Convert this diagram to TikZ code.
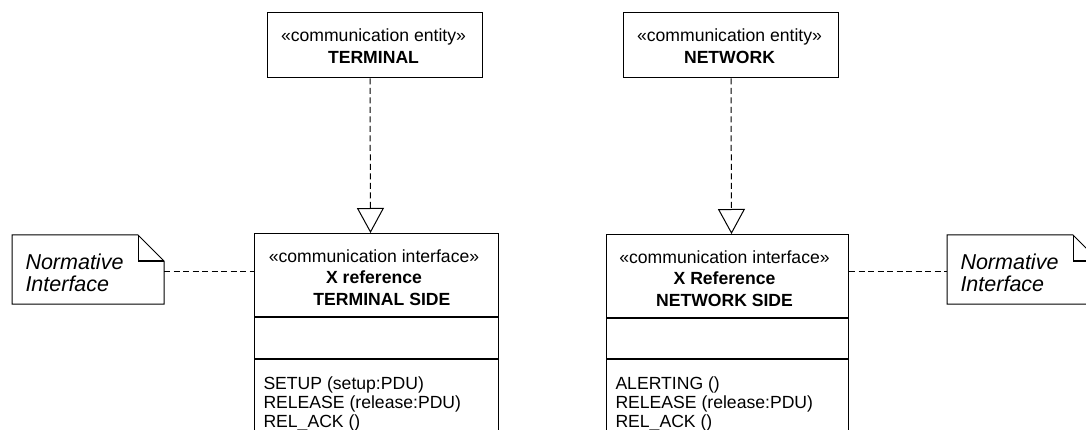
\documentclass[tikz,border=0pt]{standalone}
\usepackage{fontspec}
\setmainfont{Liberation Sans}
\usetikzlibrary{arrows.meta}

\begin{document}
\begin{tikzpicture}[x=1pt, y=-1pt, line width=1pt,
	umlbox/.style = {draw, rectangle, inner sep=0pt},
	umltext/.style = {inner sep=0pt, anchor=north, align=center, font=\fontsize{17.6}{21.5}\selectfont},
	optext/.style = {inner sep=0pt, anchor=north west, align=left, font=\fontsize{17.6}{19}\selectfont},
	notebox/.style = {inner sep=0pt, anchor=north west, minimum width=151pt, minimum height=68pt},
	notetext/.style = {inner sep=0pt, anchor=west, align=left, font=\fontsize{21.5}{21.5}\selectfont\itshape},
	depends/.style = {dash pattern=on 6pt off 3.5pt, -{Triangle[open, length=25pt, width=27pt]}},
	tie/.style = {dash pattern=on 6pt off 3.5pt}]
	\useasboundingbox (0,0) rectangle (1086,430);
	\clip (0,0) rectangle (1086,430);

	% entities
	\node[umlbox, minimum width=215pt, minimum height=65pt] (termEnt) at (374.5,45.5) {};
	\node[umltext] (termEntText) at ([xshift=-1pt, yshift=-16pt]termEnt.north) {«communication entity»\\\textbf{TERMINAL}};
	\node[umlbox, minimum width=215pt, minimum height=65pt] (netEnt) at (730.5,45.5) {};
	\node[umltext] (netEntText) at ([xshift=-1pt, yshift=-16pt]netEnt.north) {«communication entity»\\\textbf{NETWORK}};

	% terminal side interface
	\node[umlbox, anchor=north west, minimum width=244pt, minimum height=83pt] (termIf) at (254,233) {};
	\node[umlbox, anchor=north west, minimum width=244pt, minimum height=41pt] (termAttr) at (termIf.south west) {};
	\node[umlbox, anchor=north west, minimum width=244pt, minimum height=90pt] (termOps) at (termAttr.south west) {};
	\node[umltext] (termIfText) at ([xshift=-2.5pt, yshift=-16pt]termIf.north) {«communication interface»\\\textbf{X reference}\\\textbf{\hspace*{0.9em}TERMINAL SIDE}};
	\node[optext] (termOpsText) at ([xshift=9pt, yshift=-17.5pt]termOps.north west) {SETUP (setup:PDU)\\RELEASE (release:PDU)\\REL\_ACK ()};

	% network side interface
	\node[umlbox, anchor=north west, minimum width=242pt, minimum height=83pt] (netIf) at (606,234) {};
	\node[umlbox, anchor=north west, minimum width=242pt, minimum height=40pt] (netAttr) at (netIf.south west) {};
	\node[umlbox, anchor=north west, minimum width=242pt, minimum height=90pt] (netOps) at (netAttr.south west) {};
	\node[umltext] (netIfText) at ([xshift=-3pt, yshift=-16pt]netIf.north) {«communication interface»\\\textbf{X Reference}\\\textbf{NETWORK SIDE}};
	\node[optext] (netOpsText) at ([xshift=9pt, yshift=-17.5pt]netOps.north west) {ALERTING ()\\RELEASE (release:PDU)\\REL\_ACK ()};

	% notes
	\node[notebox] (leftNote) at (12,235) {};
	\draw (leftNote.south west) -- (leftNote.north west) -- ([xshift=-26pt]leftNote.north east) -- ([yshift=-26pt]leftNote.north east) -- (leftNote.south east) -- cycle;
	\draw ([xshift=-26pt]leftNote.north east) |- ([yshift=-26pt]leftNote.north east);
	\node[notetext] (leftNoteText) at ([xshift=13pt, yshift=-38pt]leftNote.north west) {Normative\\Interface};

	\node[notebox] (rightNote) at (947,235) {};
	\draw (rightNote.south west) -- (rightNote.north west) -- ([xshift=-26pt]rightNote.north east) -- ([yshift=-26pt]rightNote.north east) -- (rightNote.south east) -- cycle;
	\draw ([xshift=-26pt]rightNote.north east) |- ([yshift=-26pt]rightNote.north east);
	\node[notetext] (rightNoteText) at ([xshift=13pt, yshift=-38pt]rightNote.north west) {Normative\\Interface};

	% connectors
	\draw[depends] ([xshift=-4.5pt]termEnt.south) -- ([xshift=-6pt]termIf.north);
	\draw[depends] ([xshift=0.5pt]netEnt.south) -- ([xshift=4pt]netIf.north);
	\draw[tie] ([yshift=-2pt]leftNote.east) -- ([yshift=-2pt]leftNote.east -| termIf.west);
	\draw[tie] ([yshift=-2pt]rightNote.west -| netIf.east) -- ([yshift=-2pt]rightNote.west);
\end{tikzpicture}
\end{document}
